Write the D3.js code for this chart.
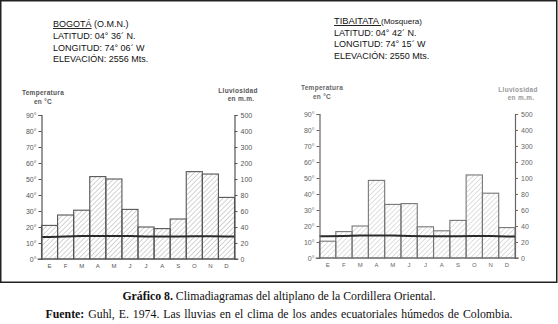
<!DOCTYPE html>
<html>
<head>
<meta charset="utf-8">
<script src="https://cdn.jsdelivr.net/npm/d3@7"></script>
<style>
  body { margin: 0; background: #fff; }
  svg text { font-family: "Liberation Sans", Arial, sans-serif; }
  .caption { font-family: "Liberation Serif", "Times New Roman", serif; font-size: 11.8px; fill: #111; }
</style>
</head>
<body>
<div id="chart"></div>
<script>
// months (spanish initials)
const months = ["E", "F", "M", "A", "M", "J", "J", "A", "S", "O", "N", "D"];

// Bogotá (O.M.N.)
const bogotaRain = [42, 55, 61, 115, 100, 62, 40, 38, 50, 146, 131, 77];
const bogotaTemp = [13.8, 14.0, 14.4, 14.4, 14.4, 14.3, 14.0, 14.0, 14.1, 14.2, 14.2, 14.0];

// Tibaitatá (Mosquera)
const tibaRain = [21, 33, 40, 97, 67, 68, 39, 34, 47, 119, 81, 38];
const tibaTemp = [13.6, 13.8, 14.0, 14.1, 14.0, 13.8, 13.6, 13.6, 13.6, 13.7, 13.7, 13.5];

// axis ticks
const tempTicks = [0, 10, 20, 30, 40, 50, 60, 70, 80, 90];
const rainTicks = [0, 20, 40, 60, 80, 100, 200, 300, 400, 500];

const width = 558, height = 324;

const svg = d3.select("#chart").append("svg")
    .attr("width", width)
    .attr("height", height);

// hatching pattern for the rain bars
function addHatch(id, color) {
    let p = svg.append("defs").append("pattern")
        .attr("id", id)
        .attr("patternUnits", "userSpaceOnUse")
        .attr("width", 3.5)
        .attr("height", 3.5)
        .attr("patternTransform", "rotate(45)");
    p.append("line")
        .attr("x1", 0).attr("y1", 0)
        .attr("x2", 0).attr("y2", 3.5)
        .attr("stroke", color)
        .attr("stroke-width", 0.9);
}
addHatch("hatchA", "#9a9a9a");
addHatch("hatchB", "#b4b4b4");

// outer frame
svg.append("rect")
    .attr("x", 0.75).attr("y", 0.75)
    .attr("width", 556).attr("height", 281.5)
    .attr("fill", "none")
    .attr("stroke", "#222")
    .attr("stroke-width", 1.5);

function drawHeader(x, y, name, extra, nameSize, extraSize, lines, gap) {
    let t = svg.append("text")
        .attr("x", x).attr("y", y)
        .attr("fill", "#111");
    t.append("tspan")
        .attr("font-size", nameSize + "px")
        .attr("text-decoration", "underline")
        .text(name);
    t.append("tspan")
        .attr("font-size", extraSize + "px")
        .text(extra);
    lines.forEach((l, i) => {
        svg.append("text")
            .attr("x", x)
            .attr("y", y + gap * (i + 1))
            .attr("font-size", "9px")
            .attr("fill", "#111")
            .text(l);
    });
}

drawHeader(53, 27, "BOGOTÁ", " (O.M.N.)", 9, 9,
    ["LATITUD: 04° 36´ N.", "LONGITUD: 74° 06´ W", "ELEVACIÓN: 2556 Mts."], 11.8);
drawHeader(334, 24, "TIBAITATA ", " (Mosquera)", 9.3, 8,
    ["LATITUD: 04° 42´ N.", "LONGITUD: 74° 15´ W", "ELEVACIÓN: 2550 Mts."], 11.7);

function drawClimate(opt) {
    let g = svg.append("g");

    let x = d3.scaleBand()
        .domain(d3.range(months.length))
        .range([opt.x0, opt.x1])
        .padding(0);

    let yT = d3.scaleLinear()
        .domain([0, 90])
        .range([opt.y0, opt.y0 - 144]);

    // rain: 20 mm = 10 °C up to 100 mm, then 100 mm per 10 °C
    let yR = d3.scaleLinear()
        .domain([0, 100, 500])
        .range([yT(0), yT(50), yT(90)]);

    // rain bars
    g.selectAll("rect.bar")
        .data(opt.rain)
        .enter().append("rect")
        .attr("class", "bar")
        .attr("x", (d, i) => x(i))
        .attr("y", d => yR(d))
        .attr("width", x.bandwidth())
        .attr("height", d => yR(0) - yR(d))
        .attr("fill", "url(#" + opt.hatch + ")")
        .attr("stroke", opt.barStroke)
        .attr("stroke-width", 1.1);

    // temperature line
    let pts = opt.temp.map((d, i) => [x(i) + x.bandwidth() / 2, d]);
    pts.unshift([opt.x0, opt.temp[0]]);
    pts.push([opt.x1, opt.temp[opt.temp.length - 1]]);
    let line = d3.line()
        .x(d => d[0])
        .y(d => yT(d[1]));
    g.append("path")
        .datum(pts)
        .attr("d", line)
        .attr("fill", "none")
        .attr("stroke", "#2a2a2a")
        .attr("stroke-width", 2);

    // left axis (temperature)
    let axL = g.append("g")
        .attr("transform", `translate(${opt.x0},0)`)
        .call(d3.axisLeft(yT).tickValues(tempTicks).tickSize(3).tickPadding(2)
            .tickFormat(d => d + "°"));
    axL.select(".domain").attr("stroke", opt.axisColor).attr("stroke-width", 1.2);
    axL.selectAll(".tick line").attr("stroke", opt.axisColor);
    axL.selectAll("text")
        .attr("font-size", "7px")
        .attr("font-family", "'Liberation Sans', Arial, sans-serif")
        .attr("fill", opt.textColor);

    // right axis (rain)
    let axR = g.append("g")
        .attr("transform", `translate(${opt.x1},0)`)
        .call(d3.axisRight(yR).tickValues(rainTicks).tickSize(3).tickPadding(3));
    axR.select(".domain").attr("stroke", opt.axisColor).attr("stroke-width", 1.2);
    axR.selectAll(".tick line").attr("stroke", opt.axisColor);
    axR.selectAll("text")
        .attr("font-size", "7px")
        .attr("font-family", "'Liberation Sans', Arial, sans-serif")
        .attr("fill", opt.textColor);

    // bottom axis with month initials
    let axB = g.append("g")
        .attr("transform", `translate(0,${opt.y0})`)
        .call(d3.axisBottom(x).tickSize(0).tickPadding(5).tickFormat(i => months[i]));
    axB.select(".domain").remove();
    axB.selectAll("text")
        .attr("font-size", "6px")
        .attr("font-family", "'Liberation Sans', Arial, sans-serif")
        .attr("fill", opt.textColor);
    g.append("line")
        .attr("x1", opt.x0 - 4).attr("x2", opt.x1 + 4)
        .attr("y1", opt.y0).attr("y2", opt.y0)
        .attr("stroke", opt.axisColor)
        .attr("stroke-width", 1.2);

    // axis titles
    let tt = g.append("text")
        .attr("text-anchor", "middle")
        .attr("font-size", "6.5px")
        .attr("font-weight", "bold")
        .attr("letter-spacing", "0.3px")
        .attr("fill", opt.textColor);
    tt.append("tspan").attr("x", opt.tempLabel[0]).attr("y", opt.tempLabel[1]).text("Temperatura");
    tt.append("tspan").attr("x", opt.tempLabel[0]).attr("dy", 9).text("en °C");

    let rt = g.append("text")
        .attr("text-anchor", "middle")
        .attr("font-size", "6.5px")
        .attr("font-weight", "bold")
        .attr("letter-spacing", "0.3px")
        .attr("fill", opt.rainColor);
    rt.append("tspan").attr("x", opt.rainLabel[0]).attr("y", opt.rainLabel[1]).text("Lluviosidad");
    rt.append("tspan").attr("x", opt.rainLabel[0] + 3).attr("dy", 8).text("en m.m.");
}

drawClimate({
    rain: bogotaRain, temp: bogotaTemp,
    x0: 41.5, x1: 234.5, y0: 259,
    hatch: "hatchA", barStroke: "#555",
    axisColor: "#555", textColor: "#555", rainColor: "#555",
    tempLabel: [43, 95], rainLabel: [238, 93]
});

drawClimate({
    rain: tibaRain, temp: tibaTemp,
    x0: 319.5, x1: 515, y0: 258,
    hatch: "hatchB", barStroke: "#777",
    axisColor: "#666", textColor: "#666", rainColor: "#999",
    tempLabel: [322, 90], rainLabel: [518, 92]
});

// caption
let c1 = svg.append("text")
    .attr("class", "caption")
    .attr("x", width / 2).attr("y", 300)
    .attr("text-anchor", "middle");
c1.append("tspan").attr("font-weight", "bold").text("Gráfico 8.");
c1.append("tspan").text(" Climadiagramas del altiplano de la Cordillera Oriental.");

let c2 = svg.append("text")
    .attr("class", "caption")
    .attr("x", width / 2).attr("y", 318)
    .attr("text-anchor", "middle")
    .attr("word-spacing", "1px");
c2.append("tspan").attr("font-weight", "bold").text("Fuente:");
c2.append("tspan").text(" Guhl, E. 1974. Las lluvias en el clima de los andes ecuatoriales húmedos de Colombia.");
</script>
</body>
</html>
